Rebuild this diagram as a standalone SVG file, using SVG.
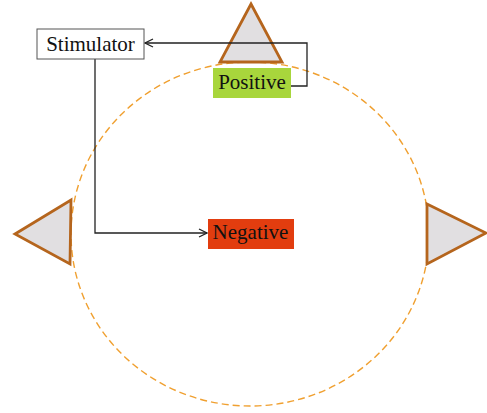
<svg xmlns="http://www.w3.org/2000/svg" width="487" height="413" viewBox="0 0 487 413">
<style>
.tri{fill:#e1dfe1;stroke:#b5651d;stroke-width:2.8;stroke-linejoin:miter}
.lbl{font-family:"Liberation Serif",serif;font-size:21px;fill:#111}
.conn{fill:none;stroke:#222;stroke-width:1.3}
</style>
<defs>
<marker id="arr" viewBox="0 0 10 10" refX="9" refY="5" markerWidth="10" markerHeight="10" markerUnits="userSpaceOnUse" orient="auto">
<path d="M1,1 L9,5 L1,9" fill="none" stroke="#222" stroke-width="1.3"/>
</marker>
</defs>
<rect width="487" height="413" fill="#fff"/>
<ellipse id="ring" cx="250" cy="234" rx="179" ry="172" fill="none" stroke="#f0a030" stroke-width="1.4" stroke-dasharray="7 4"/>
<g id="tri-top"><polygon class="tri" points="251,4 282,62 220,62"/></g>
<g id="tri-left"><polygon class="tri" points="15,234 71,200 70,264"/></g>
<g id="tri-right"><polygon class="tri" points="427,204 486,233 427,264"/></g>
<g id="connectors">
<polyline class="conn" points="291,86 307,86 307,43 145,43" marker-end="url(#arr)"/>
<polyline class="conn" points="95,59 95,233 207,233" marker-end="url(#arr)"/>
</g>
<g id="stimulator">
<rect x="37" y="29" width="107" height="30" fill="#fff" stroke="#555" stroke-width="1"/>
<text class="lbl" x="90.5" y="51" text-anchor="middle">Stimulator</text>
</g>
<g id="positive">
<rect x="213" y="68" width="78" height="30" fill="#a8d63c"/>
<text class="lbl" x="252" y="89" text-anchor="middle">Positive</text>
</g>
<g id="negative">
<rect x="208" y="219" width="86" height="30" fill="#e23d0f"/>
<text class="lbl" x="250.5" y="239" text-anchor="middle">Negative</text>
</g>
</svg>
